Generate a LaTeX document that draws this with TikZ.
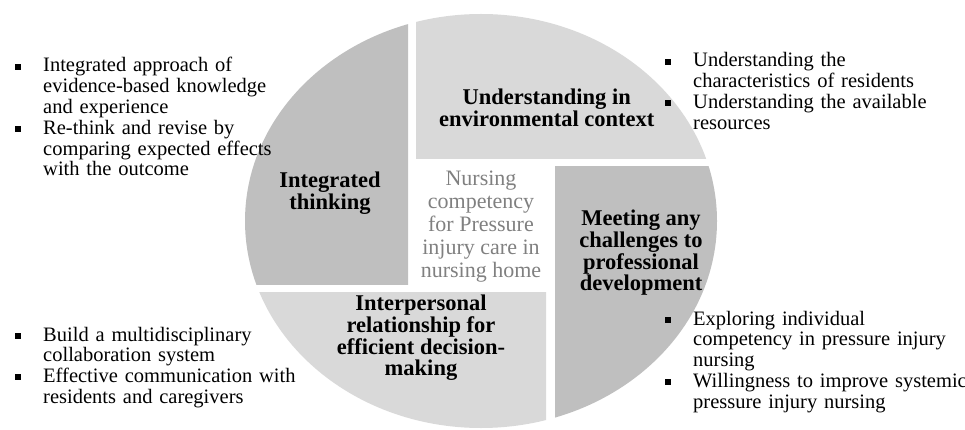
\documentclass[tikz,border=0pt]{standalone}
\usepackage{fontspec}
\setmainfont{Liberation Serif}
\usepackage{enumitem}

\definecolor{pielight}{HTML}{D9D9D9}
\definecolor{piedark}{HTML}{BFBFBF}
\definecolor{coregray}{HTML}{808080}

% small square bullet
\newcommand{\sqmark}{\rule[0.12em]{0.28em}{0.28em}}
\newenvironment{notelist}
  {\begin{itemize}[label=\sqmark, leftmargin=28pt, labelwidth=8pt, labelsep=20pt, align=left, nosep]}
  {\end{itemize}}

\tikzset{
  topic/.style={font=\fontsize{22.5}{21.7}\selectfont\bfseries, align=center, inner sep=0pt},
  notes/.style={font=\fontsize{20.5}{20.8}\selectfont, text width=#1, align=left, inner sep=0pt, anchor=north west},
  core/.style={font=\fontsize{22}{22.8}\selectfont, text=coregray, align=center, inner sep=0pt},
}

\begin{document}
\begin{tikzpicture}[x=1pt,y=-1pt]
  \useasboundingbox (0,0) rectangle (965,430);

  % the four pieces of the pie
  \begin{scope}
    \clip (0,0) rectangle (408,284);
    \fill[piedark] (481,221) ellipse [x radius=236, y radius=207];
  \end{scope}
  \begin{scope}
    \clip (416,0) rectangle (965,159);
    \fill[pielight] (481,221) ellipse [x radius=236, y radius=207];
  \end{scope}
  \begin{scope}
    \clip (555,167) rectangle (965,430);
    \fill[piedark] (481,221) ellipse [x radius=236, y radius=207];
  \end{scope}
  \begin{scope}
    \clip (0,292) rectangle (546,430);
    \fill[pielight] (481,221) ellipse [x radius=236, y radius=207];
  \end{scope}

  \node[core] (core) at (481,226.5) {Nursing\\competency\\for Pressure\\injury care in\\nursing home};

  \node[topic] (integ) at (330,193) {Integrated\\thinking};
  \node[topic, anchor=west] (envir) at (439,107.5) {Understanding in\\environmental context};
  \node[topic] (profdev) at (641,253) {Meeting any\\challenges to\\professional\\development};
  \node[topic] (interp) at (421,338) {Interpersonal\\relationship for\\efficient decision-\\making};

  % notes around the pie
  \node[notes=340pt] (integnotes) at (15,51) {\begin{notelist}
    \item Integrated approach of\\evidence-based knowledge\\and experience
    \item Re-think and revise by\\comparing expected effects\\with the outcome
  \end{notelist}};
  \node[notes=340pt] (envirnotes) at (665,46) {\begin{notelist}
    \item Understanding the\\characteristics of residents
    \item Understanding the available\\resources
  \end{notelist}};
  \node[notes=340pt] (interpnotes) at (15,320) {\begin{notelist}
    \item Build a multidisciplinary\\collaboration system
    \item Effective communication with\\residents and caregivers
  \end{notelist}};
  \node[notes=340pt] (profnotes) at (665,304) {\begin{notelist}
    \item Exploring individual\\competency in pressure injury\\nursing
    \item Willingness to improve systemic\\pressure injury nursing
  \end{notelist}};
\end{tikzpicture}
\end{document}
